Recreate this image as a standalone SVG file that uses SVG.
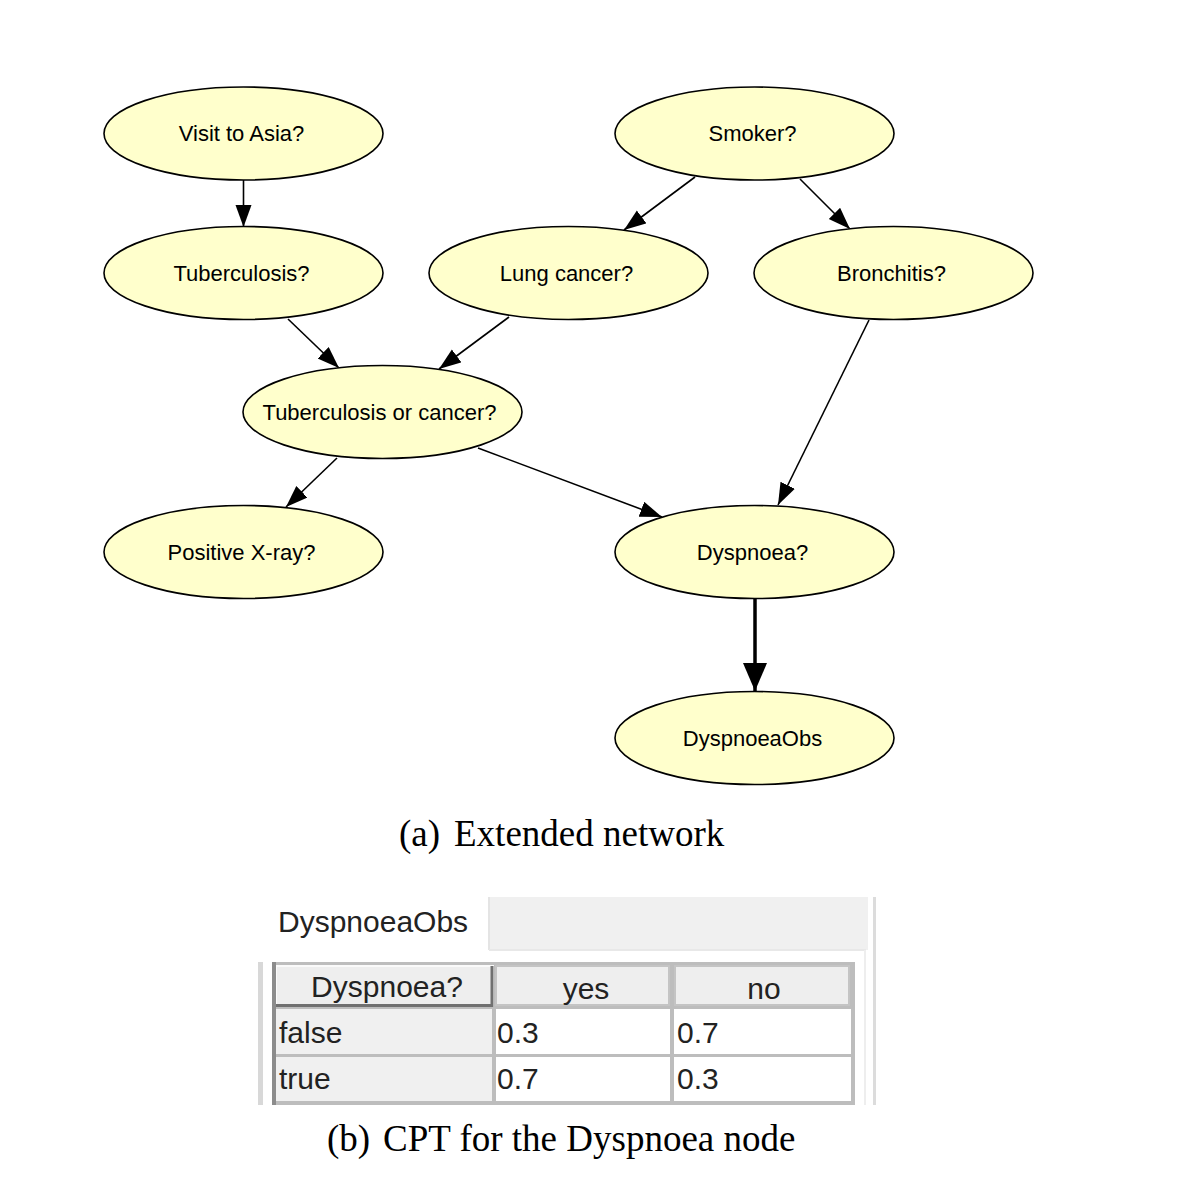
<svg xmlns="http://www.w3.org/2000/svg" width="1178" height="1182" viewBox="0 0 1178 1182">
<style>
.node ellipse{fill:#ffffcc;stroke:#000;stroke-width:1.6}
.node text{font-family:"Liberation Sans",Arial,sans-serif;font-size:22px;fill:#000;text-anchor:middle}
.edge{stroke:#000;stroke-width:1.6;fill:none;marker-end:url(#arr)}
.thick{stroke:#000;stroke-width:3.5;fill:none;marker-end:url(#arrT)}
.cap{font-family:"Liberation Serif","Times New Roman",serif;font-size:37px;fill:#000}
.tt{font-family:"Liberation Sans",Tahoma,sans-serif;font-size:30px;fill:#222}
</style>
<defs>
<marker id="arr" markerUnits="userSpaceOnUse" markerWidth="24" markerHeight="18" refX="22" refY="8" orient="auto"><path d="M0,0 L22,8 L0,16 z" fill="#000"/></marker>
<marker id="arrT" markerUnits="userSpaceOnUse" markerWidth="30" markerHeight="26" refX="28" refY="12" orient="auto"><path d="M0,0 L28,12 L0,24 z" fill="#000"/></marker>
</defs>
<rect width="1178" height="1182" fill="#fff"/>
<g id="connectors">
<line class="edge" x1="243.5" y1="180" x2="243.5" y2="227"/>
<line class="edge" x1="695" y1="177" x2="624" y2="230"/>
<line class="edge" x1="800" y1="179" x2="850" y2="229"/>
<line class="edge" x1="288" y1="319" x2="339" y2="368"/>
<line class="edge" x1="509" y1="317" x2="439" y2="369"/>
<line class="edge" x1="869" y1="320" x2="778" y2="505"/>
<line class="edge" x1="337" y1="458" x2="286" y2="507"/>
<line class="edge" x1="478" y1="448" x2="662" y2="517"/>
<line class="thick" x1="755" y1="599" x2="755" y2="691"/>
</g>
<g id="visit" class="node"><ellipse cx="243.5" cy="133.5" rx="139.5" ry="46.5"/><text x="241.5" y="141">Visit to Asia?</text></g>
<g id="smoker" class="node"><ellipse cx="754.5" cy="133.5" rx="139.5" ry="46.5"/><text x="752.5" y="141">Smoker?</text></g>
<g id="tuberculosis" class="node"><ellipse cx="243.5" cy="273" rx="139.5" ry="46.5"/><text x="241.5" y="281">Tuberculosis?</text></g>
<g id="lungcancer" class="node"><ellipse cx="568.5" cy="273" rx="139.5" ry="46.5"/><text x="566.5" y="281">Lung cancer?</text></g>
<g id="bronchitis" class="node"><ellipse cx="893.5" cy="273" rx="139.5" ry="46.5"/><text x="891.5" y="281">Bronchitis?</text></g>
<g id="tborcancer" class="node"><ellipse cx="382.5" cy="412" rx="139.5" ry="46.5"/><text x="379.5" y="420">Tuberculosis or cancer?</text></g>
<g id="xray" class="node"><ellipse cx="243.5" cy="552" rx="139.5" ry="46.5"/><text x="241.5" y="560">Positive X-ray?</text></g>
<g id="dyspnoea" class="node"><ellipse cx="754.5" cy="552" rx="139.5" ry="46.5"/><text x="752.5" y="560">Dyspnoea?</text></g>
<g id="dyspnoeaobs" class="node"><ellipse cx="754.5" cy="738" rx="139.5" ry="46.5"/><text x="752.5" y="746">DyspnoeaObs</text></g>
<g id="caption-a"><text class="cap" x="399" y="846">(a)</text><text class="cap" x="454" y="846">Extended network</text></g>
<g id="cpt">
<rect x="489" y="897" width="379" height="53" fill="#f0f0f0"/>
<line x1="489" y1="897" x2="489" y2="950" stroke="#e4e4e4" stroke-width="2"/>
<line x1="489" y1="950" x2="866" y2="950" stroke="#e8e8e8" stroke-width="2"/>
<line x1="874.5" y1="897" x2="874.5" y2="1105" stroke="#dcdcdc" stroke-width="3"/>
<line x1="865" y1="950" x2="865" y2="1105" stroke="#eeeeee" stroke-width="2"/>
<text class="tt" x="278" y="932">DyspnoeaObs</text>
<rect x="258" y="962" width="5" height="143" fill="#d8d8d8"/>
<rect x="272" y="962" width="583" height="143" fill="#bdbdbd"/>
<rect x="276" y="966" width="217" height="40" fill="#eeeeee" stroke="#fafafa" stroke-width="2"/>
<path d="M276,1005.5 H492 V966" fill="none" stroke="#707070" stroke-width="3"/>
<rect x="496" y="966" width="173" height="39" fill="#eeeeee" stroke="#c4c4c4" stroke-width="2"/>
<rect x="675" y="966" width="174" height="39" fill="#eeeeee" stroke="#c4c4c4" stroke-width="2"/>
<rect x="276" y="1009" width="216" height="45" fill="#f0f0f0"/>
<rect x="276" y="1057" width="216" height="44" fill="#f0f0f0"/>
<rect x="496" y="1009" width="174" height="45" fill="#fff"/>
<rect x="674" y="1009" width="177" height="45" fill="#fff"/>
<rect x="496" y="1057" width="174" height="44" fill="#fff"/>
<rect x="674" y="1057" width="177" height="44" fill="#fff"/>
<rect x="272" y="962" width="4" height="143" fill="#8c8c8c"/>
<text class="tt" x="387" y="997" text-anchor="middle">Dyspnoea?</text>
<text class="tt" x="586" y="999" text-anchor="middle">yes</text>
<text class="tt" x="764" y="999" text-anchor="middle">no</text>
<text class="tt" x="279" y="1043">false</text>
<text class="tt" x="279" y="1089">true</text>
<text class="tt" x="497" y="1043">0.3</text>
<text class="tt" x="677" y="1043">0.7</text>
<text class="tt" x="497" y="1089">0.7</text>
<text class="tt" x="677" y="1089">0.3</text>
</g>
<g id="caption-b"><text class="cap" x="327" y="1151">(b)</text><text class="cap" x="383" y="1151">CPT for the Dyspnoea node</text></g>
</svg>
